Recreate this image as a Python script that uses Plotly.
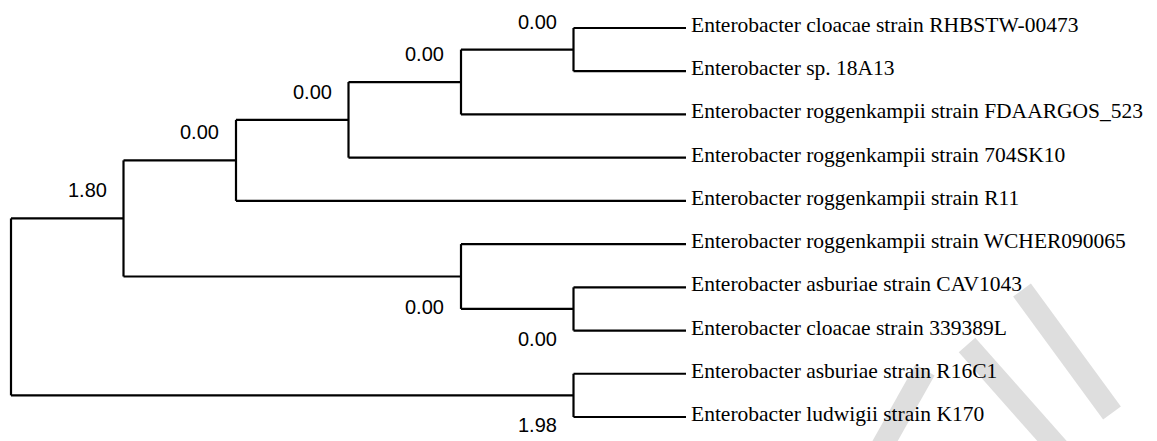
import plotly.graph_objects as go

# ---------------- data ----------------
leaf_names = [
    "Enterobacter cloacae strain RHBSTW-00473",
    "Enterobacter sp. 18A13",
    "Enterobacter roggenkampii strain FDAARGOS_523",
    "Enterobacter roggenkampii strain 704SK10",
    "Enterobacter roggenkampii strain R11",
    "Enterobacter roggenkampii strain WCHER090065",
    "Enterobacter asburiae strain CAV1043",
    "Enterobacter cloacae strain 339389L",
    "Enterobacter asburiae strain R16C1",
    "Enterobacter ludwigii strain K170",
]
# internal nodes: children are leaf indices (int) or internal node names (str)
node_names = ["A", "B", "C", "D", "E", "F", "G", "H", "root"]
node_children = [[0, 1], ["A", 2], ["B", 3], ["C", 4], ["D", "F"],
                 [5, "G"], [6, 7], [8, 9], ["E", "H"]]
node_values = ["0.00", "0.00", "0.00", "0.00", "1.80", "0.00", "0.00", "1.98", None]

# ---------------- tree layout ----------------
children = dict(zip(node_names, node_children))
values = dict(zip(node_names, node_values))

height = {}
def get_height(n):
    if isinstance(n, int):
        return 0
    if n not in height:
        height[n] = 1 + max(get_height(c) for c in children[n])
    return height[n]

max_h = get_height("root")

def pos(n):
    if isinstance(n, int):
        return float(max_h), float(n)
    ys = [pos(c)[1] for c in children[n]]
    return float(max_h - get_height(n)), (min(ys) + max(ys)) / 2.0

xs, ys = [], []
side = {}
for n in node_names:
    xn, yn = pos(n)
    cy = [pos(c)[1] for c in children[n]]
    xs += [xn, xn, None]
    ys += [min(cy), max(cy), None]
    for i, c in enumerate(children[n]):
        xc, yc = pos(c)
        xs += [xn, xc, None]
        ys += [yc, yc, None]
        if isinstance(c, str):
            side[c] = "above" if i == 0 else "below"

fig = go.Figure()
fig.add_trace(go.Scatter(x=xs, y=ys, mode="lines",
                         line=dict(color="#000000", width=2.2),
                         hoverinfo="skip", showlegend=False))

# leaf labels
for i, name in enumerate(leaf_names):
    fig.add_annotation(x=max_h, y=i, text=name, showarrow=False,
                       xanchor="left", yanchor="middle", xshift=3, yshift=3,
                       font=dict(family="Liberation Serif, Times New Roman, serif",
                                 size=21.5, color="#000000"))

# node value labels
for n in node_names:
    v = values[n]
    if v is None:
        continue
    xn, yn = pos(n)
    fig.add_annotation(x=xn, y=yn, text=v, showarrow=False,
                       xanchor="right", yanchor="middle", xshift=-15,
                       yshift=28 if side[n] == "above" else -30,
                       font=dict(family="Liberation Sans Narrow, Arial Narrow, Liberation Sans, sans-serif",
                                 size=20, color="#000000"))

# page body margin of the html page (8px) is compensated here
page_off = 8
W, H = 1157 - page_off, 441 - page_off

# faint watermark strokes (decoration, in pixel space of the reference)
watermark = [((1022, 290), (1112, 413)), ((967, 345), (1060, 450)), ((880, 450), (925, 370))]
for (x0, y0), (x1, y1) in watermark:
    fig.add_shape(type="line", xref="paper", yref="paper",
                  x0=(x0 - page_off) / W, y0=1 - (y0 - page_off) / H,
                  x1=(x1 - page_off) / W, y1=1 - (y1 - page_off) / H,
                  line=dict(color="#dedede", width=22), layer="below")

# axes: map tree levels / leaf rows to pixels
px_per_level = 112.5
left_px = 11 - page_off
px_per_leaf = 43.22
top_px = 28 - page_off
x0r = -left_px / px_per_level
x1r = x0r + W / px_per_level
y0r = -top_px / px_per_leaf
y1r = y0r + H / px_per_leaf

fig.update_xaxes(range=[x0r, x1r], visible=False, showgrid=False, zeroline=False)
fig.update_yaxes(range=[y1r, y0r], visible=False, showgrid=False, zeroline=False)
fig.update_layout(width=W, height=H, margin=dict(l=0, r=0, t=0, b=0),
                  plot_bgcolor="white", paper_bgcolor="white", autosize=False)

fig.write_html("out.html")
